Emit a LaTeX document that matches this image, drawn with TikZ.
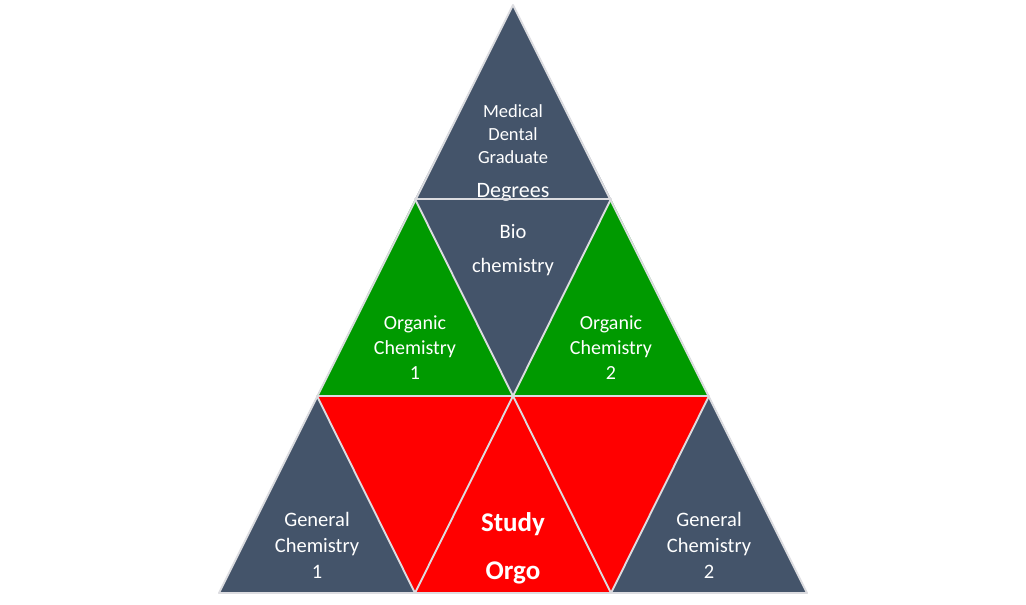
\documentclass[tikz,border=0pt]{standalone}
\usepackage{fontspec}
\setmainfont{Carlito}
\usepackage{xcolor}
\usetikzlibrary{positioning}
\definecolor{slate}{HTML}{44546A}
\definecolor{leafgreen}{HTML}{009A00}
\definecolor{orgored}{HTML}{FF0000}
\definecolor{edgegray}{HTML}{DCDCE0}
\tikzset{tri-line/.style={draw=edgegray, line width=1.9pt, line join=round}}
\tikzset{tri-slate/.style={fill=slate}}
\tikzset{tri-green/.style={fill=leafgreen}}
\tikzset{tri-red/.style={fill=orgored}}
\tikzset{tri-label/.style={text=white, align=center, inner sep=0, font=\fontsize{20}{25}\selectfont}}
\tikzset{big-label/.style={text=white, inner sep=0, font=\fontsize{27}{30}\selectfont\bfseries}}
\begin{document}
\begin{tikzpicture}[x=1pt, y=-1pt]
            \useasboundingbox (0,0) rectangle (1026,605);

            % corners of the grid
            \coordinate (top) at (513,5);
            \coordinate (r1l) at (415,199);
            \coordinate (r1r) at (611,199);
            \coordinate (r2a) at (317,396);
            \coordinate (r2b) at (513,396);
            \coordinate (r2c) at (709,396);
            \coordinate (r3a) at (219,593);
            \coordinate (r3b) at (415,593);
            \coordinate (r3c) at (611,593);
            \coordinate (r3d) at (807,593);

            \fill[tri-slate] (top) -- (r1l) -- (r1r) -- cycle;
            \fill[tri-slate] (r1l) -- (r1r) -- (r2b) -- cycle;
            \fill[tri-green] (r2a) -- (r1l) -- (r2b) -- cycle;
            \fill[tri-green] (r2b) -- (r1r) -- (r2c) -- cycle;
            \fill[tri-slate] (r3a) -- (r2a) -- (r3b) -- cycle;
            \fill[tri-red] (r2a) -- (r2b) -- (r3b) -- cycle;
            \fill[tri-red] (r3b) -- (r2b) -- (r3c) -- cycle;
            \fill[tri-red] (r2b) -- (r2c) -- (r3c) -- cycle;
            \fill[tri-slate] (r3c) -- (r2c) -- (r3d) -- cycle;

            \node[tri-label, font=\fontsize{18.5}{23}\selectfont] (degrees) at (513,134) {Medical\\Dental\\Graduate};
            \node[tri-label, anchor=base, font=\fontsize{22}{25}\selectfont] (degreeslast) at (513,197) {Degrees};
            \node[tri-label, font=\fontsize{20.5}{34}\selectfont] (biochem) at (513,250) {Bio\\chemistry};
            \node[tri-label] (orgo1) at (415,348) {Organic\\Chemistry\\1};
            \node[tri-label] (orgo2) at (611,348) {Organic\\Chemistry\\2};
            \node[tri-label, font=\fontsize{20.5}{26}\selectfont] (genchem1) at (317,545) {General\\Chemistry\\1};
            \node[tri-label, font=\fontsize{20.5}{26}\selectfont] (genchem2) at (709,545) {General\\Chemistry\\2};
            \node[big-label, anchor=base] (study) at (513,531) {Study};
            \node[big-label, anchor=base] (orgo) at (513,579) {Orgo};

            % outlines on top
            \draw[tri-line] (top) -- (r3a) -- (r3d) -- cycle;
            \draw[tri-line] (r1l) -- (r1r) -- (r3b) -- (r2a) -- (r2c) -- (r3c) -- cycle;

        \end{tikzpicture}
\end{document}
